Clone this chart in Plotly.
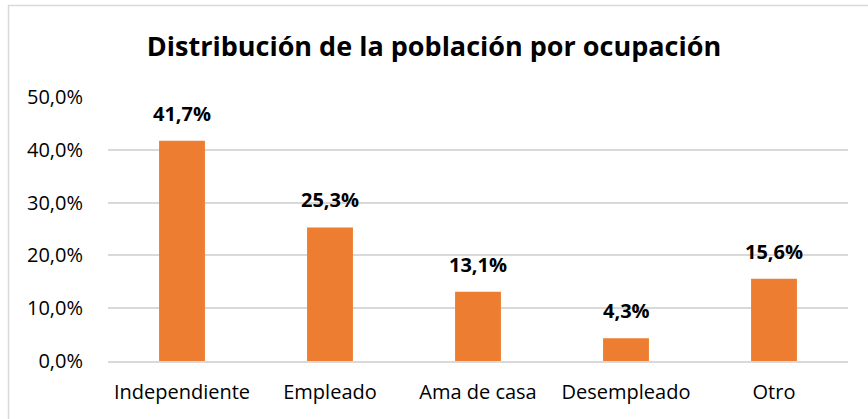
import plotly.graph_objects as go

categories = ["Independiente", "Empleado", "Ama de casa", "Desempleado", "Otro"]
values = [0.417, 0.253, 0.131, 0.043, 0.156]
labels = ["41,7%", "25,3%", "13,1%", "4,3%", "15,6%"]
title = "Distribución de la población por ocupación"

W, H = 868, 419
L, R, T, B = 108, 20, 97, 58
pw, ph = W - L - R, H - T - B
FONT = "Open Sans"

fig = go.Figure(go.Bar(
    x=categories, y=values,
    marker=dict(color="#ED7D31", line=dict(width=0)),
    width=0.31, hoverinfo="x+y",
))

for c, v, t in zip(categories, values, labels):
    fig.add_annotation(x=c, y=v, text="<b>" + t + "</b>", showarrow=False,
                       yanchor="bottom", yshift=12,
                       font=dict(family=FONT, size=20, color="#000000"))

# outer chart border
fig.add_shape(type="rect", xref="paper", yref="paper",
              x0=(8.5 - L) / pw, x1=(880 - L) / pw,
              y0=(H - B - 430) / ph, y1=(H - B - 5.5) / ph,
              line=dict(color="#D9D9D9", width=1.5), layer="below")

fig.update_layout(
    width=W, height=H,
    margin=dict(l=L, r=R, t=T, b=B),
    paper_bgcolor="white", plot_bgcolor="white",
    separators=",.",
    showlegend=False,
    title=dict(text="<b>" + title + "</b>", x=(434 - L) / pw, xref="paper",
               xanchor="center", y=1 - 47 / H, yanchor="middle",
               font=dict(family=FONT, size=27, color="#000000")),
    font=dict(family=FONT, size=20, color="#000000"),
)
fig.update_yaxes(range=[0, 0.5], dtick=0.1, tickformat=".1%",
                 showgrid=True, gridcolor="#D9D9D9", gridwidth=1.5,
                 zeroline=False, showline=False, ticks="",
                 ticklabelstandoff=24,
                 tickfont=dict(family=FONT, size=20, color="#000000"))
fig.update_xaxes(showline=True, linecolor="#D9D9D9", linewidth=1.5,
                 ticks="", ticklabelstandoff=12,
                 tickfont=dict(family=FONT, size=20, color="#000000"))

fig.write_html("out.html", config={"displayModeBar": False},
               post_script="document.body.style.margin='0';")
